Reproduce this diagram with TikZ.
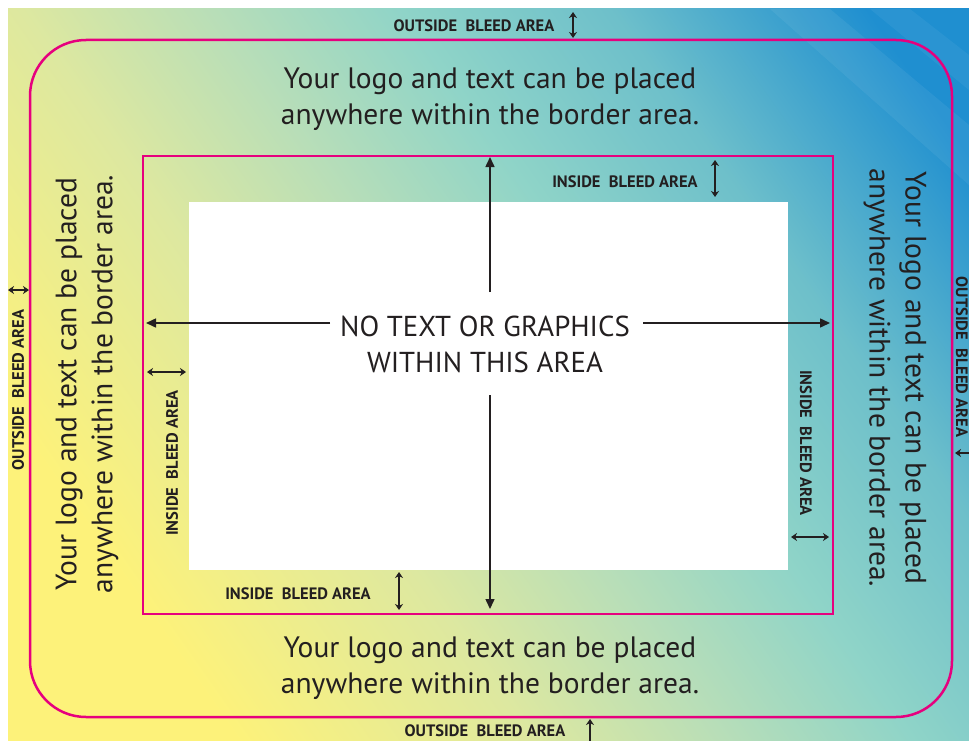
\documentclass[tikz,border=0pt]{standalone}
\usepackage{fontspec}
\setmainfont{PT Sans}
\usetikzlibrary{arrows.meta}
\definecolor{cardyellow}{HTML}{FDF27A}
\definecolor{cardlime}{HTML}{DDE8A0}
\definecolor{cardmint}{HTML}{B8DEB8}
\definecolor{cardteal}{HTML}{8FD4C8}
\definecolor{cardblue}{HTML}{1F8FD0}
\definecolor{bleedpink}{HTML}{E6007E}
\definecolor{inkgray}{HTML}{231F20}
\pgfdeclarehorizontalshading{cardfade}{100bp}{color(0bp)=(cardyellow); color(26bp)=(cardyellow); color(40bp)=(cardlime); color(49bp)=(cardmint); color(58bp)=(cardteal); color(68bp)=(cardteal!70!cardblue); color(80bp)=(cardblue); color(100bp)=(cardblue)}
\tikzstyle{blurb}=[align=center,text=inkgray,font=\fontsize{29.5}{36}\selectfont]
\tikzstyle{bleedlabel}=[text=inkgray,font=\fontsize{16.5}{18}\selectfont\bfseries]
\tikzstyle{bleedarrow}=[{Stealth[length=6pt,width=8pt]}-{Stealth[length=6pt,width=8pt]},draw=inkgray,line width=1.3pt]
\tikzstyle{bigarrow}=[-{Triangle[length=10pt,width=9pt]},draw=inkgray,line width=1.5pt]
\tikzstyle{borderline}=[draw=bleedpink,line width=2.5pt]

\begin{document}
\begin{tikzpicture}[x=1pt,y=-1pt]
        \useasboundingbox (0,0) rectangle (969,741);
        \fill[white] (0,0) rectangle (969,741);
        \shade[shading=cardfade,shading angle=35] (8,9) rectangle (969,741);
        % faint stripes top right
        \fill[white,opacity=0.06] (770,9) -- (830,9) -- (969,125) -- (969,185) -- cycle;
        \fill[white,opacity=0.05] (870,9) -- (910,9) -- (969,55) -- (969,90) -- cycle;

        % borders
        \draw[borderline,rounded corners=56pt] (30,40) rectangle (952,717);
        \draw[borderline,line width=2pt] (143,156) rectangle (833,614);
        \fill[white] (189,202) rectangle (788,570);

        % centre area
        \node at (485,344) [blurb,font=\fontsize{28.8}{36}\selectfont] (ctr) {NO TEXT OR GRAPHICS\\WITHIN THIS AREA};
        \coordinate (upfrom) at (490,292);
        \coordinate (upto) at (490,157);
        \coordinate (downfrom) at (490,395);
        \coordinate (downto) at (490,609);
        \coordinate (leftfrom) at (330,323);
        \coordinate (leftto) at (146,323);
        \coordinate (rightfrom) at (643,323);
        \coordinate (rightto) at (830,323);
        \draw [bigarrow] (upfrom) -- (upto);
        \draw [bigarrow] (downfrom) -- (downto);
        \draw [bigarrow] (leftfrom) -- (leftto);
        \draw [bigarrow] (rightfrom) -- (rightto);

        % border text
        \node at (490,99) [blurb] (toptext) {Your logo and text can be placed\\anywhere within the border area.};
        \node at (490,668) [blurb] (bottext) {Your logo and text can be placed\\anywhere within the border area.};
        \node at (87,384) [blurb,rotate=90] (lefttext) {Your logo and text can be placed\\anywhere within the border area.};
        \node at (895,378) [blurb,rotate=-90] (righttext) {Your logo and text can be placed\\anywhere within the border area.};

        % bleed labels
        \node at (474,26) [bleedlabel] (topout) {OUTSIDE\ \ BLEED AREA};
        \node at (485,731) [bleedlabel] (botout) {OUTSIDE\ \ BLEED AREA};
        \node at (18,390) [bleedlabel,rotate=90] (leftout) {OUTSIDE\ \ BLEED AREA};
        \node at (962,357) [bleedlabel,rotate=-90] (rightout) {OUTSIDE\ \ BLEED AREA};
        \node at (625,182) [bleedlabel] (topin) {INSIDE\ \ BLEED AREA};
        \node at (298,594) [bleedlabel] (botin) {INSIDE\ \ BLEED AREA};
        \node at (172,463) [bleedlabel,rotate=90] (leftin) {INSIDE\ \ BLEED AREA};
        \node at (806,443) [bleedlabel,rotate=-90] (rightin) {INSIDE\ \ BLEED AREA};

        % bleed arrows
        \coordinate (topouta) at (573,12);
        \coordinate (topoutb) at (573,38);
        \coordinate (botouta) at (590,719);
        \coordinate (botoutb) at (590,748);
        \coordinate (leftouta) at (8,290);
        \coordinate (leftoutb) at (29,290);
        \coordinate (rightouta) at (955,453);
        \coordinate (rightoutb) at (978,453);
        \coordinate (topina) at (715,160);
        \coordinate (topinb) at (715,197);
        \coordinate (botina) at (399,572);
        \coordinate (botinb) at (399,610);
        \coordinate (leftina) at (147,372);
        \coordinate (leftinb) at (186,372);
        \coordinate (rightina) at (791,537);
        \coordinate (rightinb) at (829,537);
        \draw [bleedarrow] (topouta) -- (topoutb);
        \draw [bleedarrow] (botouta) -- (botoutb);
        \draw [bleedarrow] (leftouta) -- (leftoutb);
        \draw [bleedarrow] (rightouta) -- (rightoutb);
        \draw [bleedarrow] (topina) -- (topinb);
        \draw [bleedarrow] (botina) -- (botinb);
        \draw [bleedarrow] (leftina) -- (leftinb);
        \draw [bleedarrow] (rightina) -- (rightinb);
      \end{tikzpicture}
\end{document}
